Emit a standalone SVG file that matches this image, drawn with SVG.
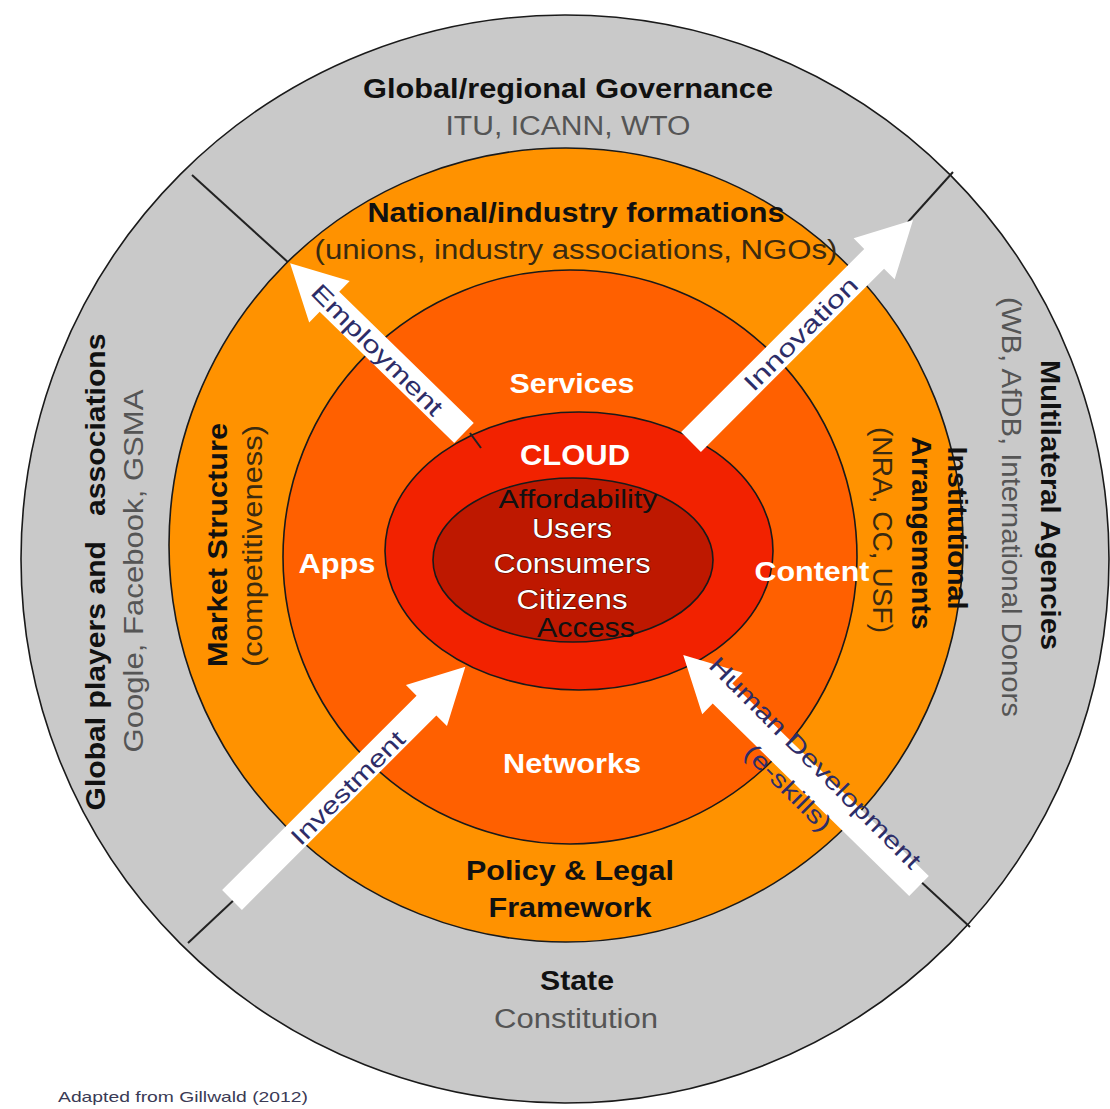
<svg xmlns="http://www.w3.org/2000/svg" width="1110" height="1109" viewBox="0 0 1110 1109">
<style>
.ring{stroke:#1a1a1a;stroke-width:1.6}
.t{font-family:"Liberation Sans",Arial,sans-serif;text-anchor:middle}
.b{font-weight:bold}
.h{font-size:28px}
.s{font-size:27px}
.dk{fill:#111}
.gr{fill:#555}
.br{fill:#3a2a10}
.wh{fill:#fff}
.wo{fill:#fff;stroke:#5a0a00;stroke-width:1.2;paint-order:stroke}
.arr{fill:#fff}
.al{font-family:"Liberation Sans",Arial,sans-serif;font-size:24px;fill:#2d2d68;text-anchor:middle}
.div{stroke:#222;stroke-width:2;fill:none}
</style>
<rect width="1110" height="1109" fill="#fff"/>
<g id="outer-ring"><circle cx="565" cy="559" r="544" fill="#c9c9c9" class="ring"/></g>
<g id="connectors">
<line class="div" x1="192" y1="175" x2="290" y2="264"/>
<line class="div" x1="953" y1="172" x2="908" y2="222"/>
<line class="div" x1="188" y1="943" x2="236" y2="898"/>
<line class="div" x1="970" y1="927" x2="918" y2="879"/>
</g>
<g id="policy-ring"><circle cx="566" cy="545" r="397" fill="#ff9200" class="ring"/></g>
<g id="market-ring"><circle cx="570" cy="557" r="287" fill="#ff6000" class="ring"/></g>
<g id="cloud"><ellipse cx="579" cy="551" rx="194" ry="139" fill="#f22200" class="ring"/></g>
<g id="users"><ellipse cx="573" cy="560" rx="140" ry="82" fill="#be1800" class="ring"/></g>
<g id="arrows">
<line class="div" x1="470" y1="433" x2="481" y2="448"/>
<g id="arrow-employment" transform="translate(464,433) rotate(-135.7)">
<polygon class="arr" points="0,-14 188,-14 188,-29 243,0 188,29 188,14 0,14"/>
</g>
<g id="arrow-innovation" transform="translate(691,442) rotate(-45)">
<polygon class="arr" points="0,-14 259,-14 259,-29 314,0 259,29 259,14 0,14"/>
</g>
<g id="arrow-investment" transform="translate(232,900) rotate(-45)">
<polygon class="arr" points="0,-14 275,-14 275,-29 330,0 275,29 275,14 0,14"/>
</g>
<g id="arrow-human" transform="translate(919,886) rotate(-135.6)">
<polygon class="arr" points="0,-14 275,-14 275,-29 330,0 275,29 275,14 0,14"/>
</g>
<text class="al" transform="translate(377,350) rotate(45)" y="8" textLength="175" lengthAdjust="spacingAndGlyphs">Employment</text>
<text class="al" transform="translate(801,334) rotate(-45)" y="8" textLength="150" lengthAdjust="spacingAndGlyphs">Innovation</text>
<text class="al" transform="translate(348,788) rotate(-45)" y="8" textLength="150" lengthAdjust="spacingAndGlyphs">Investment</text>
<text class="al" transform="translate(815,763) rotate(45)" y="8" textLength="288" lengthAdjust="spacingAndGlyphs">Human Development</text>
<text class="al" transform="translate(788,788) rotate(45)" y="8" textLength="112" lengthAdjust="spacingAndGlyphs">(e-skills)</text>
</g>
<g id="label-governance">
<text class="t b h dk" x="568" y="98" textLength="410" lengthAdjust="spacingAndGlyphs">Global/regional Governance</text>
<text class="t s gr" x="568" y="135" textLength="245" lengthAdjust="spacingAndGlyphs">ITU, ICANN, WTO</text>
</g>
<g id="label-national">
<text class="t b h dk" x="576" y="222" textLength="417" lengthAdjust="spacingAndGlyphs">National/industry formations</text>
<text class="t s br" x="576" y="259" textLength="523" lengthAdjust="spacingAndGlyphs">(unions, industry associations, NGOs)</text>
</g>
<g id="label-global-players">
<text class="t b h dk" transform="translate(105,572) rotate(-90)" textLength="477" lengthAdjust="spacingAndGlyphs" xml:space="preserve">Global players and   associations</text>
<text class="t s gr" transform="translate(143,571) rotate(-90)" textLength="363" lengthAdjust="spacingAndGlyphs">Google, Facebook, GSMA</text>
</g>
<g id="label-market">
<text class="t b h dk" transform="translate(227,545) rotate(-90)" textLength="244" lengthAdjust="spacingAndGlyphs">Market Structure</text>
<text class="t s br" transform="translate(262,546) rotate(-90)" textLength="242" lengthAdjust="spacingAndGlyphs">(competitiveness)</text>
</g>
<g id="label-multilateral">
<text class="t b h dk" transform="translate(1041,505) rotate(90)" textLength="290" lengthAdjust="spacingAndGlyphs">Multilateral Agencies</text>
<text class="t s gr" transform="translate(1002,507) rotate(90)" textLength="420" lengthAdjust="spacingAndGlyphs">(WB, AfDB, International Donors</text>
</g>
<g id="label-institutional">
<text class="t b h dk" transform="translate(948,528) rotate(90)" textLength="163" lengthAdjust="spacingAndGlyphs">Institutional</text>
<text class="t b h dk" transform="translate(912,533) rotate(90)" textLength="193" lengthAdjust="spacingAndGlyphs">Arrangements</text>
<text class="t s br" transform="translate(873,530) rotate(90)" textLength="206" lengthAdjust="spacingAndGlyphs">(NRA, CC, USF)</text>
</g>
<g id="label-services"><text class="t b h wh" x="572" y="393" textLength="125" lengthAdjust="spacingAndGlyphs">Services</text></g>
<g id="label-apps"><text class="t b h wh" x="337" y="573" textLength="77" lengthAdjust="spacingAndGlyphs">Apps</text></g>
<g id="label-content"><text class="t b h wh" x="812" y="581" textLength="115" lengthAdjust="spacingAndGlyphs">Content</text></g>
<g id="label-networks"><text class="t b h wh" x="572" y="773" textLength="138" lengthAdjust="spacingAndGlyphs">Networks</text></g>
<g id="label-cloud"><text class="t b wh" style="font-size:29px" x="575" y="465" textLength="110" lengthAdjust="spacingAndGlyphs">CLOUD</text></g>
<g id="label-users">
<text class="t dk" style="font-size:25px" x="578" y="508" textLength="159" lengthAdjust="spacingAndGlyphs">Affordability</text>
<text class="t h wo" x="572" y="538" textLength="80" lengthAdjust="spacingAndGlyphs">Users</text>
<text class="t h wo" x="572" y="573" textLength="157" lengthAdjust="spacingAndGlyphs">Consumers</text>
<text class="t h wo" x="572" y="609" textLength="111" lengthAdjust="spacingAndGlyphs">Citizens</text>
<text class="t s dk" x="586" y="637" textLength="98" lengthAdjust="spacingAndGlyphs">Access</text>
</g>
<g id="label-policy">
<text class="t b h dk" x="570" y="880" textLength="208" lengthAdjust="spacingAndGlyphs">Policy &amp; Legal</text>
<text class="t b h dk" x="570" y="917" textLength="163" lengthAdjust="spacingAndGlyphs">Framework</text>
</g>
<g id="label-state">
<text class="t b h dk" x="577" y="990" textLength="74" lengthAdjust="spacingAndGlyphs">State</text>
<text class="t s gr" x="576" y="1028" textLength="164" lengthAdjust="spacingAndGlyphs">Constitution</text>
</g>
<g id="footer"><text x="58" y="1102" style="font-family:'Liberation Sans',Arial,sans-serif;font-size:15px;fill:#3a3a55" textLength="250" lengthAdjust="spacingAndGlyphs">Adapted from Gillwald (2012)</text></g>
</svg>
